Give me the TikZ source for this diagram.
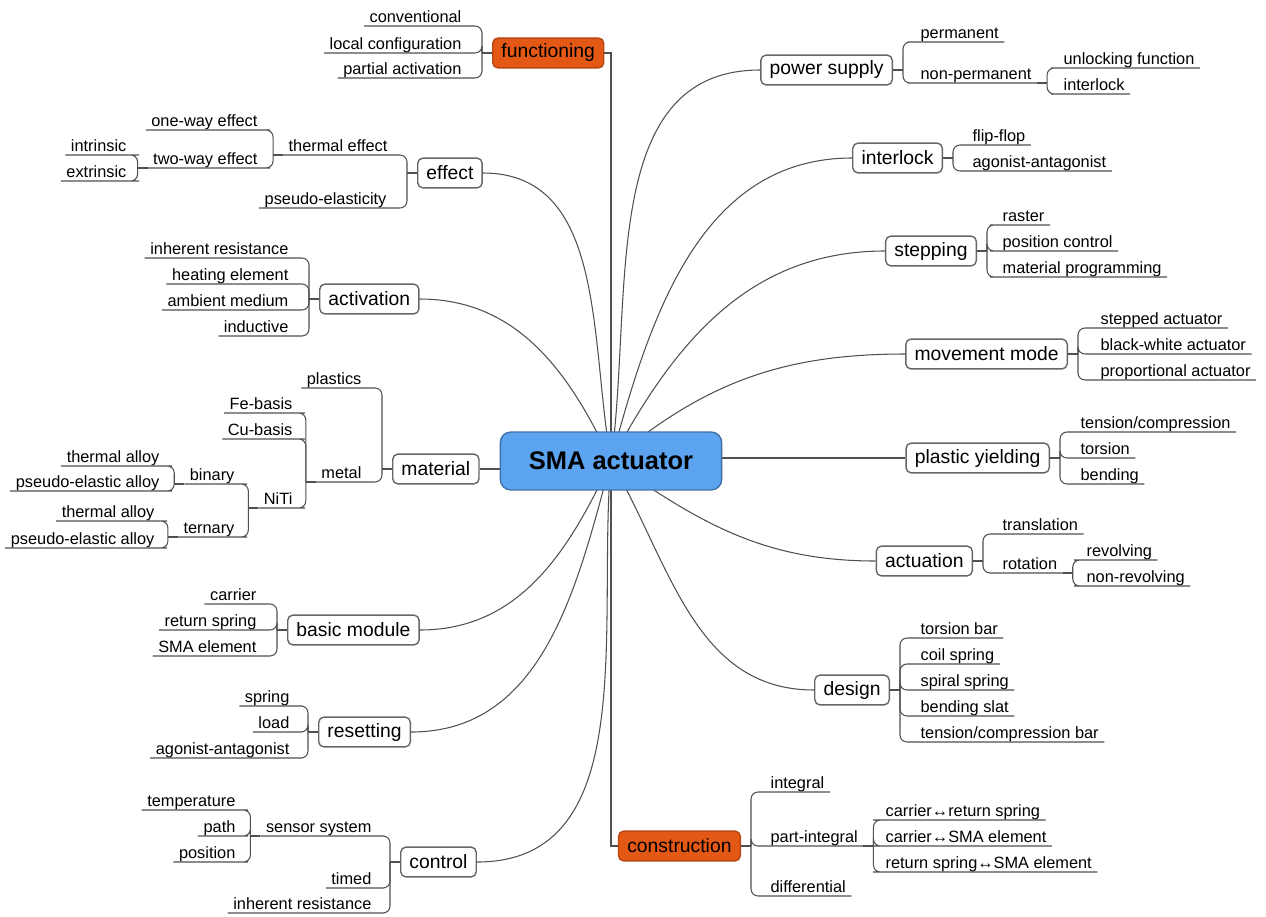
\documentclass[tikz,border=0pt]{standalone}
\usepackage{fontspec}
\setmainfont{Liberation Sans}
\usetikzlibrary{backgrounds,calc}

\definecolor{hubblue}{RGB}{92,163,240}
\definecolor{keyorange}{RGB}{228,88,22}
\definecolor{linegray}{RGB}{80,80,80}

\tikzset{
  hub/.style={draw=hubblue!70!black, fill=hubblue, rounded corners=6pt, line width=0.8pt,
    minimum width=126pt, minimum height=33pt, font=\fontsize{14.5}{16}\selectfont\bfseries},
  topic/.style={draw=black!60, fill=white, rounded corners=3pt, line width=0.8pt,
    inner xsep=5pt, minimum height=17pt, font=\fontsize{11}{13}\selectfont},
  keytopic/.style={topic, fill=keyorange, draw=keyorange!80!black},
  leaf/.style={inner xsep=3pt, inner ysep=0pt, text height=7pt, text depth=2pt,
    font=\fontsize{9.3}{11}\selectfont},
  link/.style={draw=linegray, line width=0.6pt},
  fork/.style={link, rounded corners=4pt},
}

\begin{document}
\begin{tikzpicture}[x=0.02cm, y=-0.02cm]
  \useasboundingbox (0,0) rectangle (1266,916);

  % centre
  \node[hub] (hub) at (611,461) {SMA actuator};

  % left topics
  \node[keytopic, anchor=west] (func) at (492,53) {functioning};
  \node[topic, anchor=west] (eff) at (417,173) {effect};
  \node[topic, anchor=west] (act) at (319,299) {activation};
  \node[topic, anchor=west] (mat) at (392,469) {material};
  \node[topic, anchor=west] (bas) at (287,630) {basic module};
  \node[topic, anchor=west] (res) at (318,732) {resetting};
  \node[topic, anchor=west] (ctl) at (400,862) {control};

  % right topics
  \node[topic, anchor=east] (pow) at (893,70) {power supply};
  \node[topic, anchor=east] (ilk) at (943,158) {interlock};
  \node[topic, anchor=east] (stp) at (977,251) {stepping};
  \node[topic, anchor=east] (mov) at (1068,354) {movement mode};
  \node[topic, anchor=east] (ply) at (1050,458) {plastic yielding};
  \node[topic, anchor=east] (atu) at (973,561) {actuation};
  \node[topic, anchor=east] (dsg) at (890,690) {design};
  \node[keytopic, anchor=east] (con) at (741,846) {construction};

  % left leaves
  \begin{scope}[every node/.style={leaf, anchor=south east}]
    \node (conv) at (467,26) {conventional};
    \node (lcfg) at (467,53) {local configuration};
    \node (pact) at (467,78) {partial activation};
    \node (therm) at (393,155) {thermal effect};
    \node (pseudo) at (392,208) {pseudo-elasticity};
    \node (oneway) at (263,130) {one-way effect};
    \node (twoway) at (263,168) {two-way effect};
    \node (intr) at (132,155) {intrinsic};
    \node (extr) at (132,181) {extrinsic};
    \node (inhres) at (294,258) {inherent resistance};
    \node (heat) at (294,284) {heating element};
    \node (amb) at (294,310) {ambient medium};
    \node (induc) at (294,336) {inductive};
    \node (plast) at (367,388) {plastics};
    \node (metal) at (367,482) {metal};
    \node (febas) at (298,413) {Fe-basis};
    \node (cubas) at (298,439) {Cu-basis};
    \node (niti) at (298,508) {NiTi};
    \node (binary) at (240,484) {binary};
    \node (ternary) at (240,537) {ternary};
    \node (thalA) at (165,466) {thermal alloy};
    \node (psalA) at (165,491) {pseudo-elastic alloy};
    \node (thalB) at (160,521) {thermal alloy};
    \node (psalB) at (160,548) {pseudo-elastic alloy};
    \node (carr) at (262,604) {carrier};
    \node (retsp) at (262,630) {return spring};
    \node (smael) at (262,656) {SMA element};
    \node (spring) at (295,706) {spring};
    \node (load) at (295,732) {load};
    \node (agant) at (295,758) {agonist-antagonist};
    \node (sensor) at (377,836) {sensor system};
    \node (timed) at (377,888) {timed};
    \node (inhresB) at (377,913) {inherent resistance};
    \node (temp) at (241,810) {temperature};
    \node (path) at (241,836) {path};
    \node (posit) at (241,862) {position};
  \end{scope}

  % right leaves
  \begin{scope}[every node/.style={leaf, anchor=south west}]
    \node (perm) at (915,42) {permanent};
    \node (nperm) at (915,83) {non-permanent};
    \node (unlock) at (1058,68) {unlocking function};
    \node (ilkB) at (1058,94) {interlock};
    \node (flip) at (967,145) {flip-flop};
    \node (agantB) at (967,171) {agonist-antagonist};
    \node (raster) at (997,225) {raster};
    \node (posctl) at (997,251) {position control};
    \node (matprog) at (997,277) {material programming};
    \node (stepact) at (1095,328) {stepped actuator};
    \node (bwact) at (1095,354) {black-white actuator};
    \node (propact) at (1095,380) {proportional actuator};
    \node (tenscomp) at (1075,432) {tension/compression};
    \node (tors) at (1075,458) {torsion};
    \node (bend) at (1075,484) {bending};
    \node (transl) at (997,534) {translation};
    \node (rot) at (997,573) {rotation};
    \node (revol) at (1081,560) {revolving};
    \node (nrevol) at (1081,586) {non-revolving};
    \node (torbar) at (915,638) {torsion bar};
    \node (coil) at (915,664) {coil spring};
    \node (spiral) at (915,690) {spiral spring};
    \node (bslat) at (915,716) {bending slat};
    \node (tcbar) at (915,742) {tension/compression bar};
    \node (integ) at (765,792) {integral};
    \node (pint) at (765,846) {part-integral};
    \node (diff) at (765,896) {differential};
    \node (crs) at (880,820) {carrier↔return spring};
    \node (csma) at (880,846) {carrier↔SMA element};
    \node (rsma) at (880,872) {return spring↔SMA element};
  \end{scope}

  \begin{scope}[on background layer]
    % hub to topics
    \draw[link] (func.east) -| (hub.center) |- (con.west);
    \draw[link] (mat.east) -- (mat.east -| hub.center);
    \draw[link] (ply.west) -- (ply.west -| hub.center);
    \draw[link] (hub.center) to[out=100,in=0] (eff.east);
    \draw[link] (hub.center) to[out=115,in=0] (act.east);
    \draw[link] (hub.center) to[out=245,in=0] (bas.east);
    \draw[link] (hub.center) to[out=255,in=0] (res.east);
    \draw[link] (hub.center) to[out=265,in=0] (ctl.east);
    \draw[link] (hub.center) to[out=82,in=180] (pow.west);
    \draw[link] (hub.center) to[out=75,in=180] (ilk.west);
    \draw[link] (hub.center) to[out=62,in=180] (stp.west);
    \draw[link] (hub.center) to[out=40,in=180] (mov.west);
    \draw[link] (hub.center) to[out=-35,in=180] (atu.west);
    \draw[link] (hub.center) to[out=-60,in=180] (dsg.west);
  \end{scope}

  % forks to the left: parent anchor / children
  \foreach \p/\kids in {func.west/{conv,lcfg,pact}, eff.west/{therm,pseudo},
      therm.south west/{oneway,twoway}, twoway.south west/{intr,extr},
      act.west/{inhres,heat,amb,induc}, mat.west/{plast,metal},
      metal.south west/{febas,cubas,niti}, niti.south west/{binary,ternary},
      binary.south west/{thalA,psalA}, ternary.south west/{thalB,psalB},
      bas.west/{carr,retsp,smael}, res.west/{spring,load,agant},
      ctl.west/{sensor,timed,inhresB}, sensor.south west/{temp,path,posit}} {
    \draw[link] (\p) -- ++(-10,0);
    \foreach \c in \kids
      \draw[fork] (\c.south west) -- (\c.south east) -| ($(\p)+(-10,0)$);
  }

  % forks to the right
  \foreach \p/\kids in {pow.east/{perm,nperm}, nperm.south east/{unlock,ilkB},
      ilk.east/{flip,agantB}, stp.east/{raster,posctl,matprog},
      mov.east/{stepact,bwact,propact}, ply.east/{tenscomp,tors,bend},
      atu.east/{transl,rot}, rot.south east/{revol,nrevol},
      dsg.east/{torbar,coil,spiral,bslat,tcbar}, con.east/{integ,pint,diff},
      pint.south east/{crs,csma,rsma}} {
    \draw[link] (\p) -- ++(10,0);
    \foreach \c in \kids
      \draw[fork] (\c.south east) -- (\c.south west) -| ($(\p)+(10,0)$);
  }
\end{tikzpicture}
\end{document}
